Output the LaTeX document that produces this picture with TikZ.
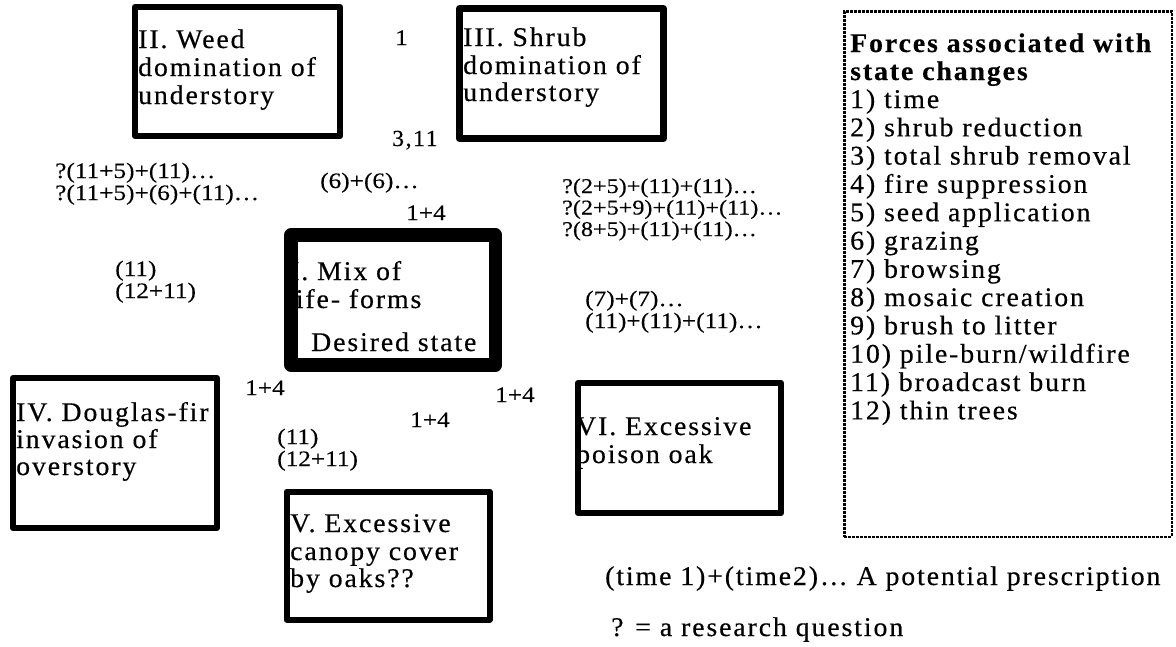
\documentclass[tikz,border=0pt]{standalone}
\usepackage{fontspec}
\setmainfont{Liberation Serif}
\newfontfamily\widefont[FakeStretch=1.03,LetterSpace=7,FakeBold=0.4]{Liberation Serif}
\newfontfamily\labfont[FakeStretch=1.15,FakeBold=0.3]{Liberation Serif}
\begin{document}
\begin{tikzpicture}[x=1pt,y=-1pt,
  statebox/.style={draw, line width=6pt, line join=round, inner sep=0pt, minimum width=#1},
  boxtxt/.style={anchor=base west, inner sep=0pt, font=\widefont\fontsize{27}{28}\selectfont},
  legtxt/.style={anchor=base west, inner sep=0pt, font=\widefont\fontsize{27}{28}\selectfont},
  legbold/.style={anchor=base west, inner sep=0pt, font=\widefont\bfseries\fontsize{27}{28}\selectfont},
  lab/.style={anchor=base west, inner sep=0pt, font=\labfont\fontsize{22}{20}\selectfont},
  labsm/.style={anchor=base west, inner sep=0pt, font=\labfont\fontsize{21}{20}\selectfont},
  widelab/.style={anchor=base west, inner sep=0pt, font=\widefont\fontsize{23}{24}\selectfont},
  legendbox/.style={draw, line width=2.5pt, dash pattern=on 3pt off 1pt, inner sep=0pt}]
\useasboundingbox (0,0) rectangle (1176,646);
\fill[white] (0,0) rectangle (1176,646);

% ---- box texts ----
\node[boxtxt] (t2a) at (138,48) {II. Weed};
\node[boxtxt] (t2b) at (138,76) {domination of};
\node[boxtxt] (t2c) at (138,104) {understory};

\node[boxtxt] (t3a) at (463,46) {III. Shrub};
\node[boxtxt] (t3b) at (463,74) {domination of};
\node[boxtxt] (t3c) at (463,101) {understory};

\node[boxtxt] (t1a) at (290,280) {I. Mix of};
\node[boxtxt] (t1b) at (286,308) {life- forms};
\node[boxtxt] (t1c) at (311,351) {Desired state};

\node[boxtxt] (t4a) at (16,421) {IV. Douglas-fir};
\node[boxtxt] (t4b) at (16,448) {invasion of};
\node[boxtxt] (t4c) at (16,475) {overstory};

\node[boxtxt] (t5a) at (290,532) {V. Excessive};
\node[boxtxt] (t5b) at (290,560) {canopy cover};
\node[boxtxt] (t5c) at (290,587) {by oaks??};

\node[boxtxt] (t6a) at (576,435) {VI. Excessive};
\node[boxtxt] (t6b) at (576,463) {poison oak};

% ---- transition labels ----
\node[lab] (l1) at (395,45) {1};
\node[widelab] (l311) at (392,146) {3,11};
\node[lab] (l66) at (320,188) {(6)+(6)\dots};
\node[lab] (l14a) at (406,220) {1+4};

\node[lab] (lw1) at (55,178) {?(11+5)+(11)\dots};
\node[lab] (lw2) at (55,200) {?(11+5)+(6)+(11)\dots};

\node[labsm] (ls1) at (562,193) {?(2+5)+(11)+(11)\dots};
\node[labsm] (ls2) at (562,214.5) {?(2+5+9)+(11)+(11)\dots};
\node[labsm] (ls3) at (562,236) {?(8+5)+(11)+(11)\dots};

\node[lab] (ld1) at (115,276) {(11)};
\node[lab] (ld2) at (115,298) {(12+11)};

\node[lab] (lp1) at (585,306) {(7)+(7)\dots};
\node[lab] (lp2) at (585,328) {(11)+(11)+(11)\dots};

\node[lab] (l14b) at (245,395) {1+4};
\node[lab] (l14c) at (495,402) {1+4};
\node[lab] (l14d) at (410,427) {1+4};

\node[lab] (lc1) at (277,444) {(11)};
\node[lab] (lc2) at (277,466) {(12+11)};

% ---- legend ----
\node[legbold] (h1) at (850,52) {Forces associated with};
\node[legbold] (h2) at (850,80) {state changes};
\node[legtxt] (f1) at (850,108.0) {1) time};
\node[legtxt] (f2) at (850,136.3) {2) shrub reduction};
\node[legtxt] (f3) at (850,164.6) {3) total shrub removal};
\node[legtxt] (f4) at (850,192.9) {4) fire suppression};
\node[legtxt] (f5) at (850,221.2) {5) seed application};
\node[legtxt] (f6) at (850,249.5) {6) grazing};
\node[legtxt] (f7) at (850,277.8) {7) browsing};
\node[legtxt] (f8) at (850,306.1) {8) mosaic creation};
\node[legtxt] (f9) at (850,334.4) {9) brush to litter};
\node[legtxt] (f10) at (850,362.7) {10) pile-burn/wildfire};
\node[legtxt] (f11) at (850,391.0) {11) broadcast burn};
\node[legtxt] (f12) at (850,419.3) {12) thin trees};

\node[legtxt] (n1) at (605,585) {(time 1)+(time2)\dots{} A potential prescription};
\node[legtxt] (n2) at (611,636) {? = a research question};

% ---- boxes (drawn over the text) ----
\node[statebox=205pt, minimum height=129pt] (s2) at (237.5,71.5) {};
\node[statebox=204pt, minimum height=130pt, line width=7pt] (s3) at (561.5,73.5) {};
\node[statebox=204.5pt, minimum height=130pt, line width=13.5pt] (s1) at (393.25,300) {};
\node[statebox=204pt, minimum height=150pt] (s4) at (115,453) {};
\node[statebox=203pt, minimum height=128pt] (s5) at (388,555.5) {};
\node[statebox=203pt, minimum height=130pt] (s6) at (679.5,448) {};
\node[legendbox, minimum width=327.5pt, minimum height=525.5pt] (leg) at (1008,274) {};
\end{tikzpicture}
\end{document}
